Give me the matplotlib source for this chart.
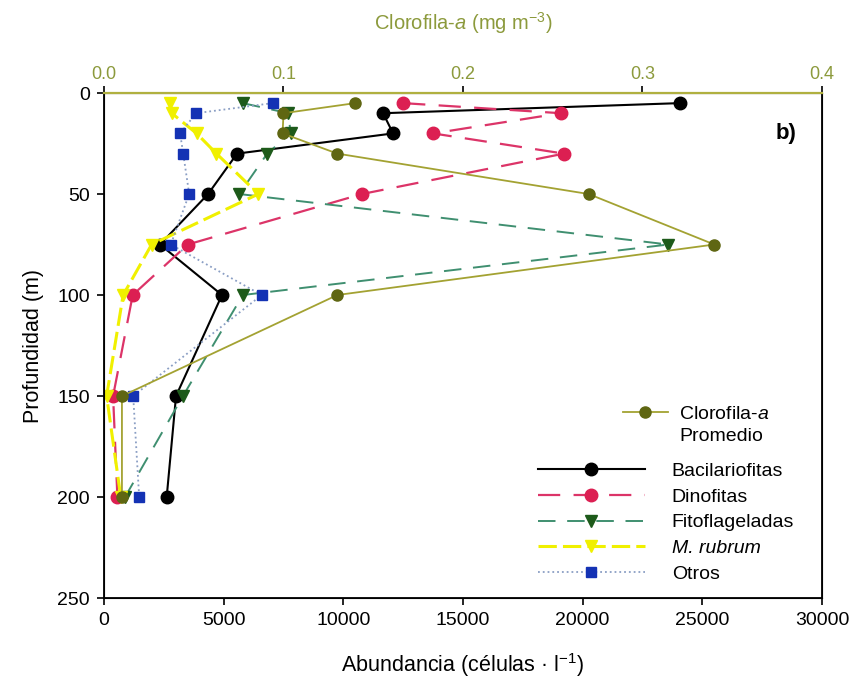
import matplotlib
matplotlib.use("Agg")
import matplotlib.pyplot as plt

# depths (m)
depth = [5, 10, 20, 30, 50, 75, 100, 150, 200]

# abundance (cells / l) per group
bacilariofitas = [24070, 11660, 12080, 5560, 4350, 2340, 4930, 3010, 2620]
dinofitas = [12500, 19100, 13750, 19220, 10780, 3500, 1200, 380, 560]
fitoflageladas = [5800, 7700, 7800, 6820, 5650, 23580, 5800, 3300, 880]
m_rubrum = [2760, 2830, 3870, 4700, 6450, 1990, 800, 110, 700]
otros = [7050, 3850, 3180, 3310, 3560, 2790, 6590, 1220, 1470]

# mean chlorophyll-a (mg m-3)
clorofila = [0.140, 0.100, 0.0995, 0.130, 0.270, 0.340, 0.130, 0.010, 0.010]

plt.rcParams['font.family'] = ['Liberation Sans', 'DejaVu Sans']
plt.rcParams['mathtext.fontset'] = 'custom'
plt.rcParams['mathtext.rm'] = 'Liberation Sans'
plt.rcParams['mathtext.it'] = 'Liberation Sans:italic'

olive_txt = '#8c9a3c'

fig = plt.figure(figsize=(8.51, 6.88), dpi=100)
ax = fig.add_axes([0.1222, 0.1308, 0.8437, 0.734])

ax.plot(bacilariofitas, depth, color='black', lw=1.5, marker='o', ms=9,
        mfc='black', mec='black', label='Bacilariofitas')
ax.plot(dinofitas, depth, color='#dc3468', lw=1.6, dashes=(10, 6), marker='o', ms=9,
        mfc='#dc1f52', mec='#dc1f52', label='Dinofitas')
ax.plot(fitoflageladas, depth, color='#3f8f70', lw=1.4, dashes=(9, 6), marker='v', ms=8,
        mfc='#1d5a1a', mec='#1d5a1a', label='Fitoflageladas')
ax.plot(m_rubrum, depth, color='#f0f000', lw=2.2, dashes=(6, 2), marker='v', ms=9,
        mfc='#f0f000', mec='#f0f000', label='M. rubrum')
ax.plot(otros, depth, color='#8a9ec4', lw=1.3, ls=':', marker='s', ms=7,
        mfc='#1432b4', mec='#1432b4', label='Otros')

ax.set_xlim(0, 30000)
ax.set_ylim(250, 0)
ax.set_xticks(range(0, 30001, 5000))
ax.set_yticks(range(0, 251, 50))
ax.tick_params(axis='both', direction='out', length=5, width=1.2, labelsize=14, pad=5)
ax.tick_params(axis='y', right=False)
for s in ['left', 'right', 'bottom']:
    ax.spines[s].set_linewidth(1.3)
ax.set_xlabel('Abundancia (células · l$^{-1}$)', fontsize=15.5, labelpad=16)
ax.set_ylabel('Profundidad (m)', fontsize=15.5, labelpad=10)

# chlorophyll on the top axis
ax2 = ax.twiny()
ax2.plot(clorofila, depth, color='#a3a232', lw=1.3, marker='o', ms=8,
         mfc='#5f6612', mec='#5f6612', label='Clorofila-$a$')
ax2.set_xlim(0, 0.4)
ax2.set_xticks([0.0, 0.1, 0.2, 0.3, 0.4])
ax2.set_xticklabels(['0.0', '0.1', '0.2', '0.3', '0.4'])
ax2.tick_params(axis='x', direction='out', length=5, width=1.2, labelsize=13,
                labelcolor=olive_txt, pad=2)
ax2.spines['top'].set_color('#b0b040')
ax2.spines['top'].set_linewidth(1.6)
ax2.set_xlabel('Clorofila-$a$ (mg m$^{-3}$)', fontsize=14.5, color=olive_txt, labelpad=26)

leg1 = ax2.legend(loc='upper left', bbox_to_anchor=(0.723, 0.381), frameon=False,
                  fontsize=14, handlelength=2.3, handletextpad=0.6,
                  borderpad=0, borderaxespad=0)
ax2.text(0.802, 0.319, 'Promedio', transform=ax2.transAxes, fontsize=14, va='center')

leg2 = ax2.legend(*ax.get_legend_handles_labels(), loc='upper left',
                  bbox_to_anchor=(0.604, 0.269), frameon=False, fontsize=14,
                  handlelength=5.5, handletextpad=1.4, labelspacing=0.42,
                  borderpad=0, borderaxespad=0)
leg2.get_texts()[3].set_fontstyle('italic')
ax2.add_artist(leg1)

ax.text(0.965, 0.92, 'b)', transform=ax.transAxes, fontsize=16, fontweight='bold',
        ha='right', va='center')

fig.savefig('out.png', dpi=100)
